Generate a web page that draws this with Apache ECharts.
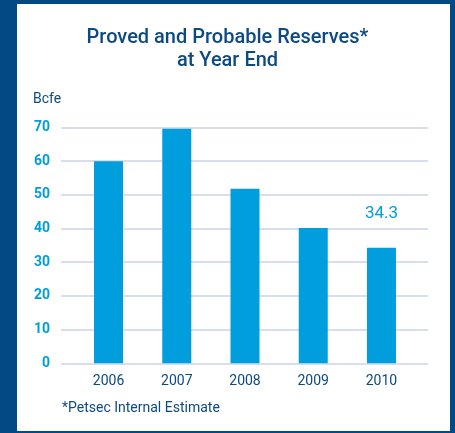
<!DOCTYPE html>
<html>
<head>
<meta charset="utf-8">
<script src="https://cdn.jsdelivr.net/npm/echarts@6/dist/echarts.min.js"></script>
<style>
  html, body { margin: 0; padding: 0; background: #034a85; }
  #wrap { position: relative; width: 455px; height: 433px; background: #034a85; }
  #panel { position: absolute; left: 17px; top: 4px; width: 433px; height: 427px; background: #fff; }
  #chart { position: absolute; left: 0; top: 0; width: 455px; height: 433px; }
</style>
</head>
<body>
<div id="wrap">
  <div id="panel"></div>
  <div id="chart"></div>
</div>
<script>
// 数据
const years = ['2006', '2007', '2008', '2009', '2010'];
const reserves = [60, 69.6, 51.8, 40.2, 34.3];
const yTicks = [0, 70, 10]; // min, max, step

const darkBlue = '#0d4a82';
const lightBlue = '#009edc';
const font = 'Roboto, "DejaVu Sans", sans-serif';

const barData = reserves.map(function (v, i) {
  // 只有最后一年显示数值
  if (i === reserves.length - 1) {
    return {
      value: v,
      label: {
        show: true,
        position: 'top',
        distance: 26,
        color: lightBlue,
        fontSize: 17,
        fontFamily: font,
      },
    };
  }
  return v;
});

const myChart = echarts.init(document.getElementById('chart'));
const option = {
  animation: false,
  title: {
    text: 'Proved and Probable Reserves*\nat Year End',
    left: 'center',
    top: 21,
    textStyle: {
      color: darkBlue,
      fontSize: 20,
      fontWeight: 500,
      lineHeight: 23,
      fontFamily: font,
    },
  },
  grid: [
    { left: 61, right: 27, top: 127.5, bottom: 69.7 },
    { left: 74.4, right: 39.4, top: 127.5, bottom: 69.7 },
  ],
  xAxis: [
    { gridIndex: 0, type: 'value', show: false },
    {
      gridIndex: 1,
      type: 'category',
      data: years,
      axisLine: { show: false },
      axisTick: { show: false },
      axisLabel: { color: darkBlue, fontSize: 14, margin: 11, fontFamily: font },
    },
  ],
  yAxis: [
    {
      gridIndex: 0,
      type: 'value',
      min: yTicks[0],
      max: yTicks[1],
      interval: yTicks[2],
      axisLine: { show: false },
      axisTick: { show: false },
      axisLabel: { color: lightBlue, fontSize: 14, fontWeight: 'bold', margin: 11, fontFamily: font },
      splitLine: { lineStyle: { color: '#cdd3e6', width: 1.5 } },
    },
    {
      gridIndex: 1,
      type: 'value',
      min: yTicks[0],
      max: yTicks[1],
      interval: yTicks[2],
      show: false,
      splitLine: { show: false },
    },
  ],
  graphic: [
    {
      type: 'text',
      left: 33,
      top: 92,
      style: { text: 'Bcfe', fill: darkBlue, fontSize: 14, fontFamily: font },
    },
    {
      type: 'text',
      left: 62,
      top: 401,
      style: { text: '*Petsec Internal Estimate', fill: darkBlue, fontSize: 14, fontFamily: font },
    },
  ],
  series: [
    {
      type: 'bar',
      xAxisIndex: 1,
      yAxisIndex: 1,
      data: barData,
      barWidth: 29,
      itemStyle: { color: lightBlue },
    },
  ],
};
myChart.setOption(option);
</script>
</body>
</html>
